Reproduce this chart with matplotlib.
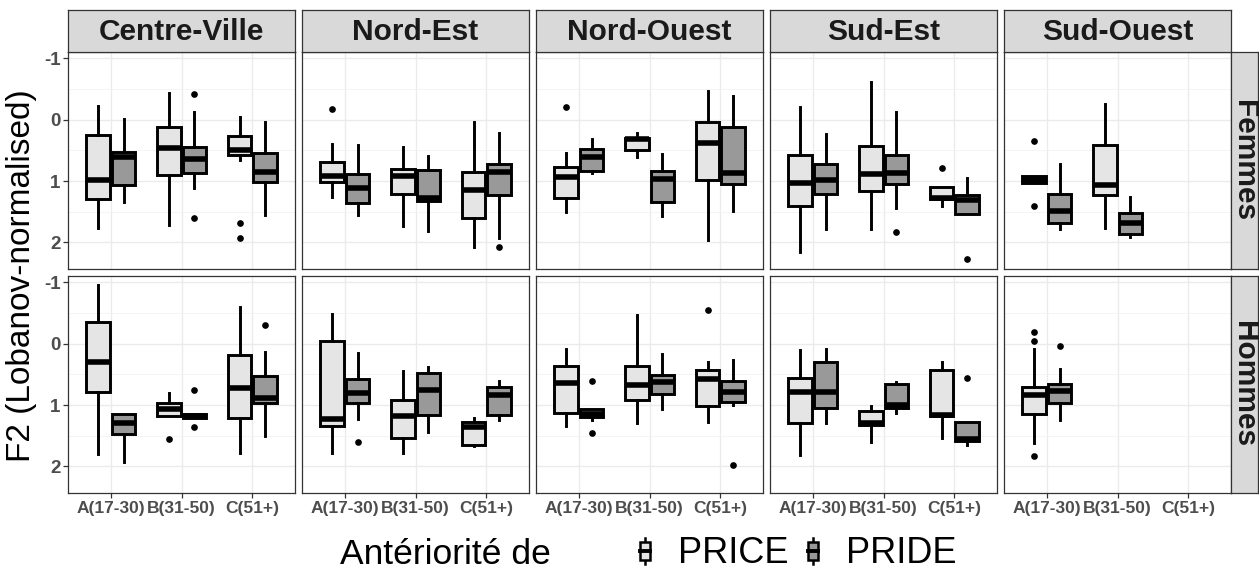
import matplotlib
matplotlib.use("Agg")  # headless
import matplotlib.pyplot as plt
from matplotlib.legend_handler import HandlerBase
from matplotlib.patches import Rectangle, Patch
from matplotlib.lines import Line2D

plt.rcParams['font.family'] = ['Liberation Sans', 'DejaVu Sans']

REGIONS = ["Centre-Ville", "Nord-Est", "Nord-Ouest", "Sud-Est", "Sud-Ouest"]
SEXES = ["Femmes", "Hommes"]
AGES = ["A(17-30)", "B(31-50)", "C(51+)"]
GROUPS = ["PRICE", "PRIDE"]
FILLS = {"PRICE": "#E5E5E5", "PRIDE": "#999999"}

# (whislo, q1, med, q3, whishi) per age class, None = no data
F_PRICE = {
    "Centre-Ville": [(-0.22, 0.245, 0.98, 1.29, 1.77), (-0.43, 0.125, 0.46, 0.90, 1.71), (-0.04, 0.27, 0.49, 0.57, 0.66)],
    "Nord-Est":     [(0.40, 0.685, 0.92, 1.02, 1.26), (0.45, 0.80, 0.91, 1.21, 1.74), (0.04, 0.85, 1.15, 1.60, 2.08)],
    "Nord-Ouest":   [(0.54, 0.77, 0.94, 1.28, 1.51), (0.22, 0.29, 0.32, 0.50, 0.61), (-0.47, 0.04, 0.38, 0.98, 1.97)],
    "Sud-Est":      [(-0.20, 0.58, 1.03, 1.41, 2.16), (-0.61, 0.435, 0.89, 1.16, 1.78), (1.10, 1.10, 1.27, 1.29, 1.40)],
    "Sud-Ouest":    [(0.91, 0.91, 0.98, 1.04, 1.04), (-0.255, 0.41, 1.07, 1.23, 1.77), None],
}
F_PRICE_OUT = {
    "Centre-Ville": [[], [], [1.68, 1.93]],
    "Nord-Est":     [[-0.18], [], []],
    "Nord-Ouest":   [[-0.20], [], []],
    "Sud-Est":      [[], [], [0.79]],
    "Sud-Ouest":    [[0.34, 1.41], [], []],
}
F_PRIDE = {
    "Centre-Ville": [(-0.02, 0.53, 0.61, 1.07, 1.34), (-0.12, 0.45, 0.64, 0.87, 1.11), (0.03, 0.55, 0.86, 1.02, 1.55)],
    "Nord-Est":     [(0.42, 0.89, 1.11, 1.36, 1.55), (0.59, 0.815, 1.27, 1.32, 1.81), (0.21, 0.72, 0.86, 1.22, 1.93)],
    "Nord-Ouest":   [(0.315, 0.48, 0.61, 0.83, 0.87), (0.56, 0.83, 0.97, 1.35, 1.57), (-0.39, 0.12, 0.87, 1.05, 1.49)],
    "Sud-Est":      [(0.23, 0.73, 0.98, 1.21, 1.79), (-0.125, 0.57, 0.87, 1.05, 1.44), (0.95, 1.23, 1.31, 1.53, 1.53)],
    "Sud-Ouest":    [(0.73, 1.21, 1.49, 1.68, 1.78), (1.26, 1.52, 1.68, 1.86, 1.91), None],
}
F_PRIDE_OUT = {
    "Centre-Ville": [[], [-0.42, 1.61], []],
    "Nord-Est":     [[], [], [2.07]],
    "Nord-Ouest":   [[], [], []],
    "Sud-Est":      [[], [1.83], [2.27]],
    "Sud-Ouest":    [[], [], []],
}
H_PRICE = {
    "Centre-Ville": [(-0.96, -0.35, 0.29, 0.79, 1.80), (0.80, 0.97, 1.06, 1.18, 1.18), (-0.60, 0.19, 0.73, 1.21, 1.78)],
    "Nord-Est":     [(-0.49, -0.04, 1.23, 1.35, 1.78), (0.45, 0.92, 1.18, 1.54, 1.78), (1.21, 1.28, 1.36, 1.65, 1.67)],
    "Nord-Ouest":   [(0.09, 0.36, 0.64, 1.125, 1.35), (-0.47, 0.36, 0.68, 0.92, 1.30), (0.30, 0.435, 0.58, 1.02, 1.27)],
    "Sud-Est":      [(0.11, 0.56, 0.79, 1.29, 1.82), (1.02, 1.09, 1.30, 1.33, 1.60), (0.29, 0.435, 1.16, 1.18, 1.53)],
    "Sud-Ouest":    [(0.09, 0.71, 0.84, 1.14, 1.62), None, None],
}
H_PRICE_OUT = {
    "Centre-Ville": [[], [1.56], []],
    "Nord-Est":     [[], [], []],
    "Nord-Ouest":   [[], [], [-0.55]],
    "Sud-Est":      [[], [], []],
    "Sud-Ouest":    [[-0.19, -0.04, 1.83], [], []],
}
H_PRIDE = {
    "Centre-Ville": [(1.14, 1.14, 1.29, 1.48, 1.93), (1.15, 1.15, 1.18, 1.21, 1.21), (0.14, 0.53, 0.88, 0.97, 1.51)],
    "Nord-Est":     [(0.15, 0.57, 0.80, 0.97, 1.23), (0.38, 0.47, 0.76, 1.17, 1.44), (0.61, 0.71, 0.83, 1.17, 1.24)],
    "Nord-Ouest":   [(1.07, 1.07, 1.14, 1.20, 1.25), (0.17, 0.505, 0.625, 0.815, 1.06), (0.27, 0.61, 0.78, 0.95, 1.005)],
    "Sud-Est":      [(0.09, 0.30, 0.79, 1.05, 1.29), (0.625, 0.66, 1.005, 1.05, 1.13), (1.27, 1.27, 1.55, 1.58, 1.66)],
    "Sud-Ouest":    [(0.42, 0.65, 0.77, 0.97, 1.25), None, None],
}
H_PRIDE_OUT = {
    "Centre-Ville": [[], [0.755, 1.36], [-0.30]],
    "Nord-Est":     [[1.60], [], []],
    "Nord-Ouest":   [[0.61, 1.45], [], [1.98]],
    "Sud-Est":      [[], [], [0.56]],
    "Sud-Ouest":    [[0.04], [], []],
}

DATA = {
    ("Femmes", "PRICE"): (F_PRICE, F_PRICE_OUT),
    ("Femmes", "PRIDE"): (F_PRIDE, F_PRIDE_OUT),
    ("Hommes", "PRICE"): (H_PRICE, H_PRICE_OUT),
    ("Hommes", "PRIDE"): (H_PRIDE, H_PRIDE_OUT),
}

W, H = 1259, 572
fig = plt.figure(figsize=(W / 100, H / 100), dpi=100)

def fx(px):
    return px / W

def fy(py):
    return 1 - py / H

LEFT0, PITCH, PW = 68.3, 234.0, 226.6
TOPS, PH = [51.7, 275.7], 217.6
STRIP_TOP, STRIP_R = 9.5, 1258.0
BORDER = "#333333"
OFFS = {"PRICE": -0.18, "PRIDE": 0.18}

for r, sex in enumerate(SEXES):
    for c, reg in enumerate(REGIONS):
        x0, y0 = LEFT0 + c * PITCH, TOPS[r]
        ax = fig.add_axes([fx(x0), fy(y0 + PH), PW / W, PH / H])
        ax.set_xlim(0.4, 3.6)
        ax.set_ylim(2.44, -1.11)
        ax.set_yticks([-1, 0, 1, 2])
        ax.set_yticks([-0.5, 0.5, 1.5], minor=True)
        ax.set_xticks([1, 2, 3])
        ax.grid(True, which="major", color="#EBEBEB", lw=1.0)
        ax.grid(True, which="minor", axis="y", color="#F2F2F2", lw=0.6)
        ax.set_axisbelow(True)
        for s in ax.spines.values():
            s.set_color(BORDER)
            s.set_linewidth(0.9)
        ax.tick_params(which="minor", length=0)
        ax.tick_params(which="major", length=3.5, color=BORDER, width=0.9,
                       labelcolor="#4D4D4D", labelsize=12.5, pad=2)
        if c == 0:
            ax.set_yticklabels(["-1", "0", "1", "2"], fontweight="bold", fontsize=13.5)
        else:
            ax.tick_params(axis="y", length=0, labelleft=False)
        if r == 1:
            ax.set_xticklabels(AGES, fontweight="bold")
        else:
            ax.tick_params(axis="x", length=0, labelbottom=False)

        for g in GROUPS:
            vals, outs = DATA[(sex, g)]
            stats, pos = [], []
            for i, v in enumerate(vals[reg]):
                if v is None:
                    continue
                lo, q1, med, q3, hi = v
                stats.append(dict(whislo=lo, q1=q1, med=med, q3=q3, whishi=hi,
                                  fliers=outs[reg][i]))
                pos.append(i + 1 + OFFS[g])
            ax.bxp(stats, positions=pos, widths=0.33, patch_artist=True,
                   showcaps=False, manage_ticks=False,
                   boxprops=dict(facecolor=FILLS[g], edgecolor="black", lw=2.1),
                   whiskerprops=dict(color="black", lw=2.1),
                   medianprops=dict(color="black", lw=4.0, solid_capstyle="butt"),
                   flierprops=dict(marker="o", markersize=3.8, markerfacecolor="black",
                                   markeredgecolor="black"))

        if r == 0:
            st = fig.add_axes([fx(x0), fy(y0), PW / W, (y0 - STRIP_TOP) / H])
            st.set_facecolor("#D9D9D9")
            st.set_xticks([]); st.set_yticks([])
            for s in st.spines.values():
                s.set_color(BORDER); s.set_linewidth(0.9)
            st.text(0.5, 0.47, reg, ha="center", va="center", fontsize=21.5,
                    fontweight="bold", color="#1A1A1A", transform=st.transAxes)
        if c == len(REGIONS) - 1:
            sr = fig.add_axes([fx(x0 + PW), fy(y0 + PH), (STRIP_R - x0 - PW) / W, PH / H])
            sr.set_facecolor("#D9D9D9")
            sr.set_xticks([]); sr.set_yticks([])
            for s in sr.spines.values():
                s.set_color(BORDER); s.set_linewidth(0.9)
            sr.text(0.5, 0.5, sex, ha="center", va="center", rotation=-90,
                    fontsize=21.5, fontweight="bold", color="#1A1A1A",
                    transform=sr.transAxes)

fig.text(fx(22), fy(276), "F2 (Lobanov-normalised)", rotation=90,
         ha="center", va="center", fontsize=24, color="black")


class BoxKey(HandlerBase):
    def create_artists(self, legend, orig, xd, yd, width, height, fontsize, trans):
        cx = -xd + width / 2
        cy = -yd + height / 2
        bw, bh, wh = width * 0.42, height * 0.55, height * 0.78
        whisk = Line2D([cx, cx], [cy - wh / 2, cy + wh / 2], color="black", lw=1.8)
        box = Rectangle((cx - bw / 2, cy - bh / 2), bw, bh, facecolor=orig.get_facecolor(),
                        edgecolor="black", lw=1.8)
        med = Line2D([cx - bw / 2, cx + bw / 2], [cy, cy], color="black", lw=2.8)
        for a in (whisk, box, med):
            a.set_transform(trans)
        return [whisk, box, med]


fig.text(fx(340), fy(554), "Antériorité de", ha="left", va="center",
         fontsize=25.5, color="black")
handles = [Patch(facecolor=FILLS[g], edgecolor="black") for g in GROUPS]
fig.legend(handles, GROUPS, loc="center left", bbox_to_anchor=(fx(633), fy(553)),
           ncol=2, frameon=False, fontsize=26, handlelength=0.65, handleheight=1.0,
           handletextpad=0.6, columnspacing=0.35, borderpad=0, borderaxespad=0,
           handler_map={Patch: BoxKey()})

fig.savefig("out.png", dpi=100)
